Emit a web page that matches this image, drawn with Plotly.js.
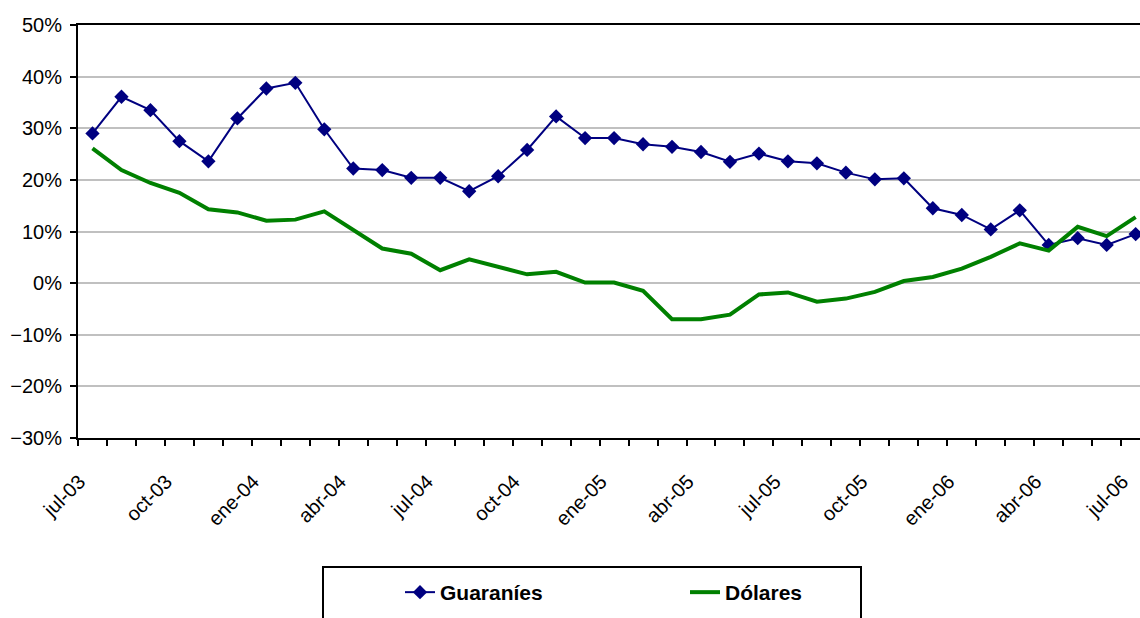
<!DOCTYPE html>
<html>
<head>
<meta charset="utf-8">
<script src="https://cdn.plot.ly/plotly-3.0.1.min.js"></script>
<style>
  html, body { margin: 0; padding: 0; background: #fff; overflow: hidden; }
  #chart { width: 1140px; height: 618px; }
</style>
</head>
<body>
<div id="chart"></div>
<script>
const months = [
  'jul-03','ago-03','sep-03','oct-03','nov-03','dic-03',
  'ene-04','feb-04','mar-04','abr-04','may-04','jun-04',
  'jul-04','ago-04','sep-04','oct-04','nov-04','dic-04',
  'ene-05','feb-05','mar-05','abr-05','may-05','jun-05',
  'jul-05','ago-05','sep-05','oct-05','nov-05','dic-05',
  'ene-06','feb-06','mar-06','abr-06','may-06','jun-06',
  'jul-06'
];
const guaranies = [29.0, 36.1, 33.5, 27.5, 23.6, 31.9, 37.7, 38.8, 29.8, 22.2, 21.9, 20.4,
  20.4, 17.8, 20.7, 25.8, 32.3, 28.1, 28.1, 26.9, 26.4, 25.4, 23.5, 25.1,
  23.6, 23.2, 21.4, 20.1, 20.3, 14.5, 13.2, 10.4, 14.1, 7.4, 8.7, 7.4, 9.5];
const dolares = [26.1, 21.9, 19.4, 17.5, 14.3, 13.7, 12.1, 12.3, 13.9, 10.3, 6.7, 5.7,
  2.5, 4.6, 3.2, 1.7, 2.2, 0.1, 0.1, -1.5, -7.0, -7.0, -6.1, -2.2,
  -1.8, -3.6, -3.0, -1.7, 0.4, 1.2, 2.8, 5.1, 7.7, 6.3, 10.9, 9.1, 12.8];
const labelEvery = 3;
const tickText = months.map((m, i) => (i % labelEvery === 0 ? m : ''));

const traces = [
  {
    type: 'scatter', mode: 'lines+markers', name: 'Guaraníes',
    x: months, y: guaranies,
    line: { color: '#000080', width: 2 },
    marker: { symbol: 'diamond', size: 11, color: '#000080' }
  },
  {
    type: 'scatter', mode: 'lines', name: 'Dólares',
    x: months, y: dolares,
    line: { color: '#008000', width: 4 }
  }
];

const tickFont = { family: 'Liberation Sans, Arial, sans-serif', size: 20, color: '#000' };

const layout = {
  width: 1140, height: 618,
  margin: { l: 78, r: 0, t: 25, b: 180 },
  paper_bgcolor: '#fff', plot_bgcolor: '#fff',
  showlegend: true,
  xaxis: {
    type: 'category',
    range: [-0.5, 36.15],
    tickmode: 'array', tickvals: months, ticktext: tickText,
    tickson: 'boundaries',
    ticks: 'outside', ticklen: 6, tickwidth: 2, tickcolor: '#000',
    tickangle: -45, tickfont: tickFont,
    ticklabelshift: -13, ticklabelstandoff: 22,
    showline: true, linecolor: '#000', linewidth: 2, mirror: true,
    showgrid: false, zeroline: false, fixedrange: true
  },
  yaxis: {
    range: [-30, 50], dtick: 10, tick0: 0,
    ticksuffix: '%',
    ticks: 'outside', ticklen: 6, tickwidth: 2, tickcolor: '#000',
    tickfont: tickFont, ticklabelstandoff: 4,
    showline: true, linecolor: '#000', linewidth: 2,
    showgrid: true, gridcolor: '#c0c0c0', gridwidth: 2,
    zeroline: false, fixedrange: true
  },
  legend: {
    orientation: 'h',
    x: (400 - 78) / 1062, xanchor: 'left',
    y: (438 - 572) / 413, yanchor: 'top',
    bgcolor: 'rgba(0,0,0,0)', borderwidth: 0,
    entrywidth: 240,
    font: { family: 'Liberation Sans, Arial, sans-serif', size: 21, color: '#000', weight: 'bold' }
  },
  shapes: [
    {
      type: 'rect', xref: 'paper', yref: 'paper',
      x0: (323 - 78) / 1062, x1: (861 - 78) / 1062,
      y0: (438 - 567) / 413, y1: (438 - 630) / 413,
      line: { color: '#000', width: 2 }, fillcolor: 'rgba(0,0,0,0)'
    }
  ]
};

Plotly.newPlot('chart', traces, layout, { displayModeBar: false, staticPlot: true });
</script>
</body>
</html>
